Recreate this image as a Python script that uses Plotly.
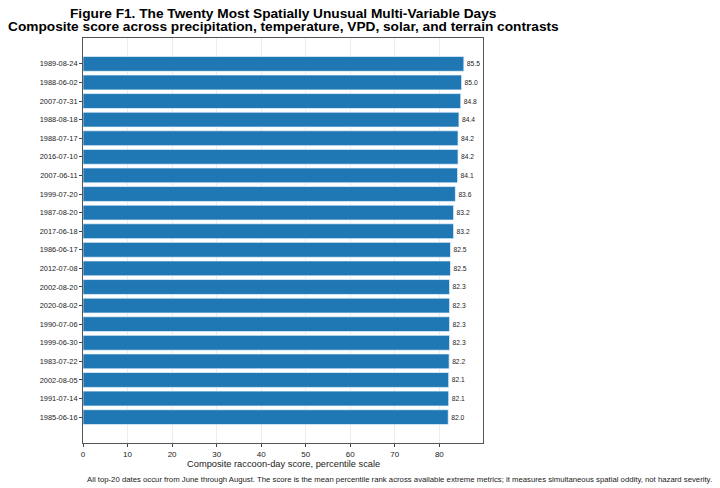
import plotly.graph_objects as go

# Data
dates = [
    "1989-08-24", "1988-06-02", "2007-07-31", "1988-08-18", "1988-07-17",
    "2016-07-10", "2007-06-11", "1999-07-20", "1987-08-20", "2017-06-18",
    "1986-06-17", "2012-07-08", "2002-08-20", "2020-08-02", "1990-07-06",
    "1999-06-30", "1983-07-22", "2002-08-05", "1991-07-14", "1985-06-16",
]
scores = [
    85.5, 85.0, 84.8, 84.4, 84.2,
    84.2, 84.1, 83.6, 83.2, 83.2,
    82.5, 82.5, 82.3, 82.3, 82.3,
    82.3, 82.2, 82.1, 82.1, 82.0,
]
x_ticks = [0, 10, 20, 30, 40, 50, 60, 70, 80]

FONT = "Liberation Sans, Arial, sans-serif"
BLUE = "#1f77b4"
TXT = "#222222"

fig = go.Figure()
fig.add_trace(go.Bar(
    x=scores,
    y=dates,
    orientation="h",
    width=0.8,
    marker=dict(color=BLUE, line=dict(color="rgba(235,245,255,0.9)", width=0.8)),
    text=[f"{v:.1f}" for v in scores],
    textposition="outside",
    textfont=dict(family=FONT, size=6.7, color=TXT),
    cliponaxis=False,
    showlegend=False,
))

# page body adds 8px offset, so figure is 712x480
fig.update_layout(
    width=712,
    height=480,
    plot_bgcolor="white",
    paper_bgcolor="white",
    font=dict(family=FONT, color=TXT),
    margin=dict(l=75, r=237, t=30, b=45),
    bargap=0.2,
)

fig.update_xaxes(
    range=[0, 89.8],
    tickvals=x_ticks,
    ticks="outside", ticklen=3, tickcolor="#444444",
    tickfont=dict(size=8, color=TXT),
    showgrid=True, gridcolor="rgba(200,200,200,0.35)", gridwidth=0.8,
    showline=True, linecolor="#555555", linewidth=1, mirror=True,
    zeroline=False,
    layer="above traces",
    automargin=False,
)
fig.update_yaxes(
    type="category",
    range=[len(dates) - 1 + 1.39, -1.39],
    ticks="outside", ticklen=3, tickcolor="#444444",
    tickfont=dict(size=7.4, color=TXT),
    showgrid=False,
    showline=True, linecolor="#555555", linewidth=1, mirror=True,
    automargin=False,
)

# titles
fig.add_annotation(
    text="<b>Figure F1. The Twenty Most Spatially Unusual Multi-Variable Days</b>",
    xref="paper", yref="paper", x=0.5, y=1.0593,
    xanchor="center", yanchor="middle", showarrow=False,
    font=dict(family=FONT, size=13.7, color="black"),
)
fig.add_annotation(
    text="<b>Composite score across precipitation, temperature, VPD, solar, and terrain contrasts</b>",
    xref="paper", yref="paper", x=0.5, y=1.0284,
    xanchor="center", yanchor="middle", showarrow=False,
    font=dict(family=FONT, size=13.7, color="black"),
)
fig.add_annotation(
    text="Composite raccoon-day score, percentile scale",
    xref="paper", yref="paper", x=0.5, y=-0.052,
    xanchor="center", yanchor="middle", showarrow=False,
    font=dict(family=FONT, size=9.3, color=TXT),
)
fig.add_annotation(
    text="All top-20 dates occur from June through August. The score is the mean percentile rank "
         "across available extreme metrics; it measures simultaneous spatial oddity, not hazard severity.",
    xref="paper", yref="paper", x=0.006, y=-0.089,
    xanchor="left", yanchor="middle", showarrow=False,
    font=dict(family=FONT, size=7.75, color=TXT),
)

fig.write_html("out.html")
